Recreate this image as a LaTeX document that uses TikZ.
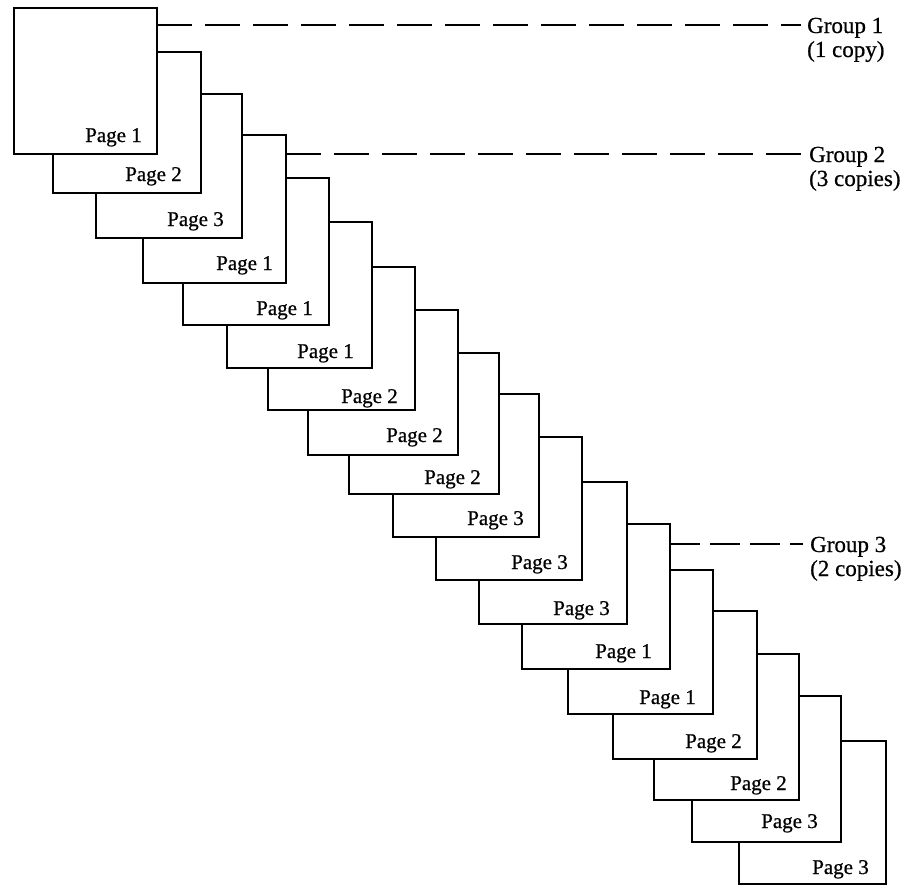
\documentclass[tikz,border=0pt]{standalone}
\usepackage{fontspec}
\setmainfont{Liberation Serif}[FakeBold=0.7]
\tikzset{
  pagebox/.style={draw, fill=white, line width=2.2pt, inner sep=0pt, outer sep=0pt, anchor=north west},
  pagelabel/.style={anchor=base east, inner sep=0pt, font=\fontsize{21}{24}\selectfont},
  grouplabel/.style={anchor=base west, inner sep=0pt, font=\fontsize{23}{24}\selectfont},
  groupline/.style={line width=2pt, dash pattern=on 35pt off 13pt},
}
% #1 name, #2 left, #3 top, #4 right, #5 bottom, #6 label, #7 label right x, #8 label baseline
\newcommand\pagesheet[8]{%
  \node[pagebox, minimum width={(#4-#2)*1pt}, minimum height={(#5-#3)*1pt}] (p#1) at (#2,#3) {};
  \node[pagelabel] (l#1) at (#7,#8) {#6};
}
\begin{document}
\begin{tikzpicture}[x=1pt,y=-1pt]
\useasboundingbox (0,0) rectangle (903,886);
\pagesheet{18}{739}{741}{886}{884}{Page 3}{869}{874}
\pagesheet{17}{692}{696}{841}{842}{Page 3}{818}{828}
\pagesheet{16}{654}{654}{799}{800}{Page 2}{787}{790}
\pagesheet{15}{613}{611}{757}{759}{Page 2}{742}{748}
\pagesheet{14}{568}{570}{713}{714}{Page 1}{696}{704}
\pagesheet{13}{522}{524}{670}{669}{Page 1}{652}{658}
\pagesheet{12}{479}{482}{627}{624}{Page 3}{610}{615}
\pagesheet{11}{436}{437}{582}{580}{Page 3}{568}{569}
\pagesheet{10}{393}{394}{539}{537}{Page 3}{524}{525}
\pagesheet{9}{349}{353}{499}{494}{Page 2}{481}{484}
\pagesheet{8}{308}{310}{458}{455}{Page 2}{443}{442}
\pagesheet{7}{268}{267}{415}{410}{Page 2}{398}{403}
\pagesheet{6}{227}{222}{372}{368}{Page 1}{354}{358}
\pagesheet{5}{183}{178}{329}{325}{Page 1}{313}{315}
\pagesheet{4}{143}{135}{286}{283}{Page 1}{273}{270}
\pagesheet{3}{96}{94}{242}{238}{Page 3}{224}{226}
\pagesheet{2}{53}{52}{201}{193}{Page 2}{182}{181}
\pagesheet{1}{14}{8}{157}{154}{Page 1}{142}{142}

\node[grouplabel] (g1) at (807,33) {\begin{tabular}[t]{@{}l@{}}Group 1\\(1 copy)\end{tabular}};
\node[grouplabel] (g2) at (809,162) {\begin{tabular}[t]{@{}l@{}}Group 2\\(3 copies)\end{tabular}};
\node[grouplabel] (g3) at (810,552) {\begin{tabular}[t]{@{}l@{}}Group 3\\(2 copies)\end{tabular}};

\coordinate (e1) at ([xshift=-6pt,yshift=8pt]g1.base west);
\coordinate (e2) at ([xshift=-6pt,yshift=8pt]g2.base west);
\coordinate (e3) at ([xshift=-7pt,yshift=8pt]g3.base west);

\draw[groupline] (p1.east |- e1) -- (e1);
\draw[groupline] (p4.east |- e2) -- (e2);
\draw[groupline, dash pattern=on 30pt off 10pt] (p13.east |- e3) -- (e3);
\end{tikzpicture}
\end{document}
